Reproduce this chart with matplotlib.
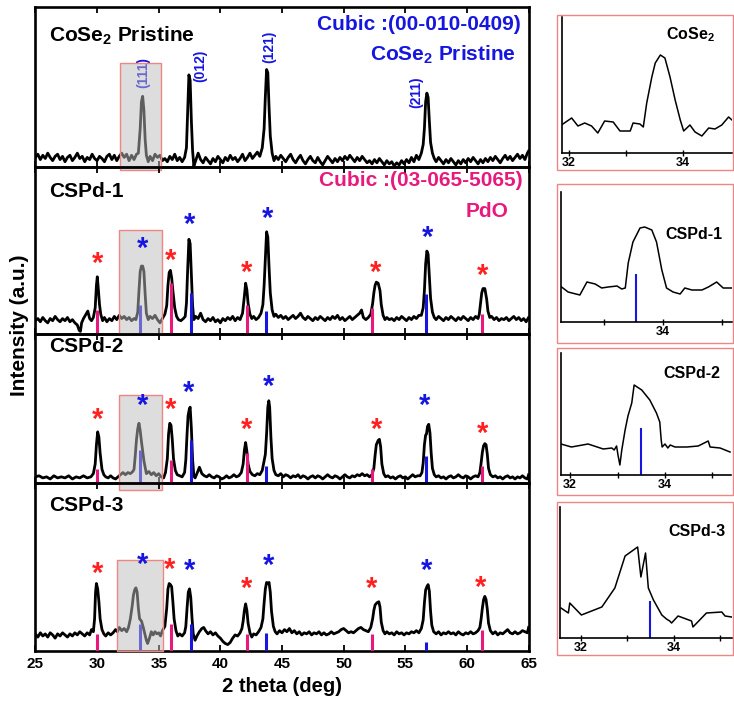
import matplotlib
matplotlib.use("Agg")
import matplotlib.pyplot as plt
from matplotlib.patches import Rectangle

plt.rcParams['font.family'] = ['Liberation Sans', 'DejaVu Sans']
plt.rcParams['font.weight'] = 'bold'
plt.rcParams['mathtext.fontset'] = 'custom'
plt.rcParams['mathtext.rm'] = 'Liberation Sans:bold'
plt.rcParams['mathtext.bf'] = 'Liberation Sans:bold'
plt.rcParams['mathtext.default'] = 'bf'

# ---------------- data (2theta in deg, intensity in arbitrary units) ----------------
p1 = [(25.0,18),(25.2,21),(25.4,16),(25.6,20),(25.8,17),(26.0,22),(26.2,18),(26.4,15),(26.6,19),(26.8,21),
      (27.0,16),(27.2,19),(27.4,14),(27.6,18),(27.8,20),(28.0,15),(28.2,18),(28.4,22),(28.6,17),(28.8,19),
      (29.0,14),(29.2,18),(29.4,16),(29.6,21),(29.8,17),(30.0,15),(30.2,19),(30.4,17),(30.6,14),(30.8,19),
      (31.0,21),(31.2,16),(31.4,20),(31.6,15),(31.8,19),(32.0,22),(32.2,18),(32.4,21),(32.6,15),(32.8,20),
      (33.0,16),(33.2,21),(33.35,22),(33.5,45),(33.6,70),(33.7,75),(33.8,62),(33.9,35),(34.0,20),(34.15,14),
      (34.3,19),(34.5,15),(34.7,21),(34.9,18),(35.1,20),(35.3,15),(35.5,17),(35.7,14),(35.9,19),(36.1,16),
      (36.3,21),(36.5,15),(36.7,18),(36.9,14),(37.1,18),(37.25,27),(37.35,60),(37.45,95),(37.55,90),(37.65,52),
      (37.75,24),(37.85,10),(38.0,15),(38.2,22),(38.4,16),(38.6,13),(38.8,18),(39.0,15),(39.2,12),(39.4,17),
      (39.6,14),(39.8,19),(40.0,16),(40.2,13),(40.4,18),(40.6,15),(40.8,20),(41.0,16),(41.2,18),(41.4,14),
      (41.6,17),(41.8,21),(42.0,15),(42.2,18),(42.4,22),(42.6,17),(42.8,20),(43.0,23),(43.2,19),(43.4,27),
      (43.55,45),(43.65,75),(43.75,100),(43.85,97),(43.95,65),(44.05,38),(44.2,22),(44.35,15),(44.5,19),(44.7,16),
      (44.9,20),(45.1,17),(45.3,14),(45.5,18),(45.7,21),(45.9,16),(46.1,13),(46.3,17),(46.5,20),(46.7,15),
      (46.9,12),(47.1,16),(47.3,19),(47.5,15),(47.7,13),(47.9,18),(48.1,14),(48.3,11),(48.5,15),(48.7,19),
      (48.9,16),(49.1,13),(49.3,17),(49.5,14),(49.7,18),(49.9,15),(50.1,19),(50.3,16),(50.5,20),(50.7,17),
      (50.9,14),(51.1,18),(51.3,15),(51.5,19),(51.7,16),(51.9,13),(52.1,15),(52.3,12),(52.5,16),(52.7,13),
      (52.9,17),(53.1,14),(53.3,11),(53.5,15),(53.7,12),(53.9,14),(54.1,10),(54.3,13),(54.5,11),(54.7,15),
      (54.9,12),(55.1,16),(55.3,13),(55.5,18),(55.7,14),(55.9,20),(56.1,16),(56.3,22),(56.45,30),(56.55,45),
      (56.65,70),(56.75,78),(56.85,74),(56.95,52),(57.05,32),(57.2,22),(57.35,17),(57.5,14),(57.7,18),(57.9,15),
      (58.1,12),(58.3,16),(58.5,13),(58.7,17),(58.9,14),(59.1,11),(59.3,15),(59.5,12),(59.7,16),(59.9,13),
      (60.1,17),(60.3,14),(60.5,18),(60.7,15),(60.9,12),(61.1,16),(61.3,13),(61.5,17),(61.7,14),(61.9,18),
      (62.1,15),(62.3,19),(62.5,16),(62.7,13),(62.9,17),(63.1,20),(63.3,16),(63.5,19),(63.7,15),(63.9,18),
      (64.1,21),(64.3,17),(64.5,20),(64.7,16),(64.9,22),(65.0,24)]

p2 = [(25.0,12),(25.2,14),(25.4,11),(25.6,15),(25.8,12),(26.0,10),(26.2,14),(26.4,12),(26.6,16),(26.8,13),
      (27.0,11),(27.2,14),(27.4,12),(27.6,15),(27.8,11),(28.0,13),(28.2,10),(28.4,8),(28.55,3),(28.65,2),
      (28.75,10),(28.9,14),(29.1,18),(29.25,21),(29.4,14),(29.55,12),(29.7,15),(29.85,24),(29.95,45),(30.02,53),
      (30.1,42),(30.2,27),(30.3,18),(30.45,12),(30.6,15),(30.8,11),(31.0,14),(31.2,12),(31.4,16),(31.6,13),
      (31.8,17),(32.0,14),(32.2,16),(32.4,13),(32.6,15),(32.8,12),(33.0,14),(33.15,13),(33.3,20),(33.4,40),
      (33.5,58),(33.6,63),(33.7,63),(33.8,58),(33.9,37),(34.0,19),(34.15,13),(34.3,16),(34.5,14),(34.7,17),
      (34.9,13),(35.1,10),(35.3,14),(35.5,18),(35.65,26),(35.75,45),(35.85,57),(35.95,59),(36.05,52),(36.15,40),
      (36.3,24),(36.45,16),(36.6,13),(36.8,12),(37.0,14),(37.15,16),(37.25,28),(37.35,60),(37.45,88),(37.55,84),
      (37.65,54),(37.75,26),(37.85,13),(38.0,16),(38.2,14),(38.4,19),(38.6,13),(38.8,11),(39.0,14),(39.2,12),
      (39.4,15),(39.6,11),(39.8,13),(40.0,10),(40.2,14),(40.4,12),(40.6,15),(40.8,13),(41.0,16),(41.2,12),
      (41.4,15),(41.6,13),(41.8,19),(41.95,35),(42.05,47),(42.15,41),(42.25,28),(42.4,18),(42.55,14),(42.7,16),
      (42.9,13),(43.1,15),(43.3,19),(43.45,27),(43.55,45),(43.65,70),(43.75,95),(43.85,90),(43.95,62),(44.05,38),
      (44.2,22),(44.35,16),(44.5,18),(44.7,15),(44.9,17),(45.1,14),(45.3,16),(45.5,13),(45.7,15),(45.9,17),
      (46.1,14),(46.3,16),(46.5,19),(46.7,15),(46.9,13),(47.1,16),(47.3,14),(47.5,12),(47.7,15),(47.9,13),
      (48.1,16),(48.3,14),(48.5,12),(48.7,15),(48.9,13),(49.1,16),(49.3,14),(49.5,17),(49.7,13),(49.9,15),
      (50.1,12),(50.3,14),(50.5,16),(50.7,13),(50.9,15),(51.1,17),(51.3,19),(51.45,22),(51.6,15),(51.8,13),
      (52.0,15),(52.2,18),(52.35,28),(52.45,38),(52.55,45),(52.65,48),(52.8,47),(52.95,40),(53.05,27),(53.2,17),
      (53.35,13),(53.5,15),(53.7,13),(53.9,14),(54.1,12),(54.3,15),(54.5,13),(54.7,16),(54.9,14),(55.1,12),
      (55.3,15),(55.5,13),(55.7,16),(55.9,14),(56.1,17),(56.3,17),(56.45,24),(56.55,40),(56.65,65),(56.75,77),
      (56.85,74),(56.95,54),(57.05,33),(57.2,20),(57.35,15),(57.5,13),(57.7,16),(57.9,14),(58.1,12),(58.3,15),
      (58.5,13),(58.7,16),(58.9,14),(59.1,12),(59.3,15),(59.5,13),(59.7,16),(59.9,14),(60.1,12),(60.3,15),
      (60.5,13),(60.7,16),(60.9,14),(61.0,18),(61.1,28),(61.2,38),(61.3,42),(61.45,42),(61.6,32),(61.7,21),
      (61.85,15),(62.0,16),(62.2,13),(62.4,15),(62.6,12),(62.8,14),(63.0,13),(63.2,15),(63.4,12),(63.6,14),
      (63.8,16),(64.0,13),(64.2,15),(64.4,12),(64.6,14),(64.8,11),(65.0,15)]

p3 = [(25.0,15),(25.3,16),(25.6,14),(25.9,15),(26.2,13),(26.5,16),(26.8,14),(27.1,15),(27.4,14),(27.7,16),
      (28.0,13),(28.3,15),(28.6,14),(28.9,16),(29.2,14),(29.5,15),(29.7,18),(29.85,27),(29.95,45),(30.05,57),
      (30.15,52),(30.25,37),(30.4,22),(30.55,17),(30.7,15),(30.9,14),(31.1,16),(31.3,14),(31.5,13),(31.7,15),
      (31.9,17),(32.1,19),(32.3,17),(32.5,19),(32.7,18),(32.9,20),(33.0,22),(33.1,35),(33.2,50),(33.3,60),
      (33.4,65),(33.5,58),(33.6,48),(33.7,39),(33.8,30),(33.9,24),(34.0,18),(34.2,20),(34.4,17),(34.6,19),
      (34.8,16),(35.0,18),(35.2,15),(35.4,14),(35.55,19),(35.7,32),(35.8,55),(35.9,65),(36.0,63),(36.1,50),
      (36.2,32),(36.35,21),(36.5,17),(36.7,16),(36.9,15),(37.1,19),(37.2,31),(37.3,55),(37.38,72),(37.48,78),
      (37.55,80),(37.65,60),(37.75,31),(37.85,16),(37.95,14),(38.1,18),(38.3,24),(38.5,18),(38.7,16),(38.9,15),
      (39.1,17),(39.3,15),(39.5,14),(39.7,16),(39.9,15),(40.1,13),(40.3,14),(40.5,16),(40.7,14),(40.9,15),
      (41.1,17),(41.3,15),(41.5,16),(41.7,19),(41.85,27),(41.95,40),(42.05,47),(42.15,39),(42.25,27),(42.4,20),
      (42.6,17),(42.8,16),(43.0,18),(43.2,17),(43.4,21),(43.55,30),(43.65,36),(43.75,55),(43.85,80),(43.93,86),
      (44.0,80),(44.1,52),(44.2,32),(44.35,21),(44.5,17),(44.7,16),(44.9,18),(45.1,15),(45.3,17),(45.5,16),
      (45.7,14),(45.9,16),(46.1,15),(46.3,17),(46.5,14),(46.7,16),(46.9,15),(47.1,13),(47.3,15),(47.5,16),
      (47.7,14),(47.9,16),(48.1,15),(48.3,13),(48.5,15),(48.7,17),(48.9,15),(49.1,14),(49.3,16),(49.5,15),
      (49.7,13),(49.9,15),(50.1,17),(50.3,15),(50.5,14),(50.7,16),(50.9,15),(51.1,17),(51.3,16),(51.5,18),
      (51.7,16),(51.9,17),(52.1,15),(52.3,17),(52.45,23),(52.55,35),(52.65,45),(52.8,49),(52.9,50),(53.0,43),
      (53.1,27),(53.25,18),(53.4,15),(53.6,16),(53.8,14),(54.0,15),(54.2,13),(54.4,15),(54.6,16),(54.8,14),
      (55.0,15),(55.2,13),(55.4,15),(55.6,17),(55.8,15),(56.0,16),(56.2,16),(56.35,19),(56.45,28),(56.55,45),
      (56.65,54),(56.72,55),(56.8,62),(56.9,64),(57.0,56),(57.1,37),(57.2,23),(57.35,17),(57.5,15),(57.7,16),
      (57.9,14),(58.1,15),(58.3,13),(58.5,15),(58.7,16),(58.9,14),(59.1,15),(59.3,17),(59.5,15),(59.7,14),
      (59.9,16),(60.1,15),(60.3,13),(60.5,15),(60.7,16),(60.9,15),(61.05,19),(61.15,28),(61.25,38),(61.35,44),
      (61.45,46),(61.55,45),(61.65,36),(61.75,23),(61.9,17),(62.1,15),(62.3,16),(62.5,14),(62.7,15),(62.9,13),
      (63.1,15),(63.3,16),(63.5,14),(63.7,15),(63.9,13),(64.1,15),(64.3,14),(64.5,16),(64.7,14),(64.9,13),
      (65.0,17)]

p4 = [(25.0,16),(25.2,13),(25.4,17),(25.6,14),(25.8,16),(26.0,13),(26.2,17),(26.4,15),(26.6,12),(26.8,16),
      (27.0,14),(27.2,17),(27.4,15),(27.6,13),(27.8,16),(28.0,14),(28.2,17),(28.4,15),(28.6,18),(28.8,16),
      (29.0,14),(29.2,17),(29.4,15),(29.55,20),(29.7,18),(29.8,30),(29.88,55),(29.95,63),(30.05,58),(30.15,46),
      (30.25,30),(30.4,20),(30.55,16),(30.7,14),(30.9,17),(31.1,15),(31.3,17),(31.5,20),(31.65,18),(31.8,22),
      (32.0,19),(32.2,21),(32.4,18),(32.55,22),(32.7,30),(32.85,42),(32.95,52),(33.05,57),(33.15,59),(33.25,55),
      (33.35,40),(33.45,30),(33.6,28),(33.75,22),(33.9,15),(34.0,10),(34.1,7),(34.25,12),(34.4,18),(34.55,15),
      (34.7,18),(34.85,16),(35.0,17),(35.15,14),(35.3,19),(35.5,23),(35.65,40),(35.75,58),(35.85,63),(35.95,62),
      (36.05,60),(36.15,46),(36.25,30),(36.4,19),(36.55,14),(36.7,16),(36.9,14),(37.1,17),(37.2,23),(37.3,40),
      (37.4,55),(37.5,58),(37.6,50),(37.7,31),(37.8,16),(37.95,10),(38.1,14),(38.3,18),(38.5,21),(38.65,22),
      (38.8,19),(39.0,16),(39.2,18),(39.4,15),(39.6,17),(39.8,14),(40.0,12),(40.2,9),(40.4,7),(40.6,6),
      (40.8,8),(41.0,12),(41.2,15),(41.4,14),(41.6,17),(41.75,21),(41.85,28),(41.95,38),(42.05,44),(42.15,38),
      (42.25,26),(42.4,17),(42.55,13),(42.7,16),(42.9,15),(43.1,18),(43.3,22),(43.45,30),(43.55,45),(43.65,58),
      (43.75,64),(43.85,63),(43.95,64),(44.05,55),(44.15,37),(44.3,23),(44.45,18),(44.6,16),(44.8,19),(45.0,17),
      (45.2,20),(45.4,18),(45.6,21),(45.8,17),(46.0,19),(46.2,16),(46.4,18),(46.6,15),(46.8,17),(47.0,16),
      (47.2,18),(47.4,15),(47.6,17),(47.8,16),(48.0,18),(48.2,15),(48.4,17),(48.6,15),(48.8,16),(49.0,18),
      (49.2,16),(49.4,17),(49.6,18),(49.8,20),(50.0,21),(50.2,19),(50.4,17),(50.6,18),(50.8,17),(51.0,19),
      (51.2,21),(51.4,22),(51.6,20),(51.8,19),(52.0,18),(52.2,22),(52.35,30),(52.45,38),(52.55,43),(52.7,45),
      (52.85,46),(52.95,41),(53.05,27),(53.2,19),(53.35,16),(53.5,18),(53.7,16),(53.9,17),(54.1,15),(54.3,18),
      (54.5,16),(54.7,17),(54.9,15),(55.1,17),(55.3,16),(55.5,18),(55.7,17),(55.9,19),(56.1,17),(56.3,21),
      (56.45,29),(56.55,45),(56.65,57),(56.75,60),(56.85,62),(56.95,56),(57.05,37),(57.15,24),(57.3,18),(57.5,16),
      (57.7,18),(57.9,15),(58.1,17),(58.3,16),(58.5,18),(58.7,16),(58.9,17),(59.1,15),(59.3,18),(59.5,16),
      (59.7,15),(59.9,17),(60.1,16),(60.3,18),(60.5,16),(60.7,17),(60.9,19),(61.05,22),(61.15,30),(61.25,40),
      (61.35,48),(61.45,51),(61.55,48),(61.65,39),(61.75,26),(61.9,19),(62.1,16),(62.3,18),(62.5,15),(62.7,17),
      (62.9,16),(63.1,18),(63.3,20),(63.5,17),(63.7,16),(63.9,18),(64.1,16),(64.3,17),(64.5,19),(64.7,18),
      (64.9,17),(65.0,22)]

spectra = [p1, p2, p3, p4]
panel_ylim = [(9.1, 158.3), (0, 155.5), (9.7, 148.7), (0, 157.3)]
panel_px = [160, 166.6, 149, 168.5]

# reference stick patterns
pdo_pos = [30.0, 36.0, 42.2, 52.3, 61.2]
cose2_pos = [33.45, 37.6, 43.7, 56.7]
pdo_h = [None, [22, 47, 27, 24, 18], [22, 31, 37, 22, 25], [16, 25, 16, 16, 20]]
cose2_h = [None, [27, 38, 21, 37], [40, 49, 25, 34], [25, 25, 17, 8]]

# asterisk marks (x, y)
red_stars = [None,
             [(30.0, 65), (36.0, 68), (42.1, 57), (52.6, 57), (61.3, 54)],
             [(30.0, 68), (36.0, 77), (42.1, 59), (52.7, 59), (61.3, 55)],
             [(30.0, 72), (35.9, 76), (42.1, 58), (52.3, 58), (61.1, 59)]]
blue_stars = [None,
              [(33.7, 79), (37.5, 101), (43.8, 107), (56.8, 89)],
              [(33.7, 81), (37.4, 93), (43.9, 99), (56.6, 81)],
              [(33.7, 80), (37.5, 75), (43.9, 79), (56.7, 75)]]

# highlighted region (x0, x1, y_top, y_bottom)
boxes = [(31.9, 35.2, 106, 6), (31.8, 35.25, 97, 0), (31.8, 35.3, 91, 2.3), (31.6, 35.35, 85, 0)]

panel_names = ['CoSe$_2$ Pristine', 'CSPd-1', 'CSPd-2', 'CSPd-3']
name_y = [0.82, 0.851, 0.916, 0.862]

hkl_labels = ['(111)', '(012)', '(121)', '(211)']
hkl_pos = [(33.72, 97), (38.36, 103), (43.93, 121), (55.9, 79)]

xticks_main = [25, 30, 35, 40, 45, 50, 55, 60, 65]

# insets
inset1 = [(31.87,28),(32.05,35),(32.16,27),(32.28,30),(32.40,27),(32.51,20),(32.63,32),(32.78,31),(32.90,22),
          (33.08,22),(33.13,30),(33.25,29),(33.31,26),(33.37,50),(33.46,76),(33.52,90),(33.61,98),(33.69,95),
          (33.78,76),(33.87,53),(33.96,33),(34.02,22),(34.13,28),(34.22,21),(34.34,17),(34.46,25),(34.57,24),
          (34.69,28),(34.81,36),(34.87,33)]
inset2 = [(32.28,35),(32.39,30),(32.59,27),(32.71,40),(32.85,38),(32.96,34),(33.07,35),(33.22,36),(33.30,33),
          (33.36,34),(33.41,59),(33.49,80),(33.61,94),(33.69,95),(33.81,92),(33.89,80),(33.98,52),(34.06,34),
          (34.17,30),(34.29,28),(34.37,34),(34.49,32),(34.66,32),(34.77,35),(34.91,40),(35.02,34),(35.16,34)]
inset3 = [(31.81,31),(32.03,28),(32.38,31),(32.70,26),(32.88,27),(32.93,25),(32.98,29),(33.01,20),(33.05,10),
          (33.09,25),(33.16,45),(33.22,59),(33.30,72),(33.35,90),(33.51,85),(33.68,75),(33.82,62),(33.89,53),
          (33.92,35),(33.94,28),(34.00,31),(34.06,27),(34.11,30),(34.21,28),(34.46,28),(34.70,29),(34.91,34),
          (34.95,28),(35.16,27),(35.37,23)]
inset4 = [(31.57,30),(31.73,25),(31.76,35),(32.01,23),(32.45,31),(32.73,50),(32.95,82),(33.22,91),(33.29,61),
          (33.39,85),(33.45,50),(33.56,38),(33.74,23),(33.84,19),(33.91,17),(33.95,15),(34.09,22),(34.38,17),
          (34.41,11),(34.70,25),(35.03,26),(35.10,22),(35.24,21)]
insets = [inset1, inset2, inset3, inset4]
inset_stick = [None, (33.54, 48), (33.49, 47), (33.48, 37)]
inset_names = ['CoSe$_2$', 'CSPd-1', 'CSPd-2', 'CSPd-3']
inset_name_px = [(690, 35), (694, 234), (692, 373), (697, 531)]
inset_xlim = [(31.88, 34.87), (32.27, 35.17), (31.81, 35.39), (31.55, 35.25)]
inset_ax_px = [(562, 17, 732, 153), (561, 192, 732, 322), (561, 353, 731, 475), (560, 507, 732, 638)]
inset_box_px = [(557, 15, 733, 170), (557, 184, 733, 343), (557, 348, 733, 495), (557, 502, 733, 655)]

# ---------------- styling ----------------
PINK = '#e8197d'
BLUE = '#1616e0'
RED = '#ff2020'
BOXEDGE = '#f08585'

W, H = 734, 701
fig = plt.figure(figsize=(W / 100, H / 100), dpi=100)

def frect(l, t, r, b):
    return [l / W, 1 - b / H, (r - l) / W, (b - t) / H]

gs = fig.add_gridspec(4, 1, left=35.4 / W, right=528.6 / W, top=1 - 7 / H, bottom=1 - 651 / H,
                      hspace=0, height_ratios=panel_px)

for i in range(4):
    ax = fig.add_subplot(gs[i])
    ax.set_facecolor('none')
    x, y = zip(*spectra[i])
    ax.plot(x, y, color='black', lw=2.0, zorder=2)
    if pdo_h[i] is not None:
        ax.vlines(pdo_pos, 0, pdo_h[i], color=PINK, lw=2.2, zorder=3)
        ax.vlines(cose2_pos, 0, cose2_h[i], color=BLUE, lw=2.2, zorder=3)
    x0, x1, yt, yb = boxes[i]
    ax.add_patch(Rectangle((x0, yb), x1 - x0, yt - yb, facecolor=(0.74, 0.74, 0.74), alpha=0.5,
                           edgecolor='none', zorder=4, clip_on=False))
    ax.add_patch(Rectangle((x0, yb), x1 - x0, yt - yb, facecolor='none', edgecolor=BOXEDGE,
                           lw=1.0, zorder=4, clip_on=False))
    if red_stars[i] is not None:
        for sx, sy in red_stars[i]:
            ax.text(sx, sy, '*', color=RED, fontsize=21, ha='center', va='center', zorder=5)
        for sx, sy in blue_stars[i]:
            ax.text(sx, sy, '*', color=BLUE, fontsize=21, ha='center', va='center', zorder=5)
    ax.text(0.028, name_y[i], panel_names[i], transform=ax.transAxes, fontsize=15,
            ha='left', va='center', color='black')
    ax.set_xticks(xticks_main)
    ax.set_yticks([])
    ax.set_xlim(25, 65)
    ax.set_ylim(*panel_ylim[i])
    ax.tick_params(axis='x', direction='in', top=True, bottom=True, length=4, width=1.3,
                   labelsize=11, pad=4)
    for s in ax.spines.values():
        s.set_linewidth(1.9)
    if i < 3:
        ax.tick_params(labelbottom=False)
    else:
        for lab in ax.get_xticklabels():
            lab.set_fontweight('bold')
        ax.set_xlabel('2 theta (deg)', fontsize=14.5, fontweight='bold', labelpad=5)
    if i == 0:
        ax.text(0.985, 0.8875, 'Cubic :(00-010-0409)', transform=ax.transAxes, fontsize=15,
                ha='right', va='center', color=BLUE)
        ax.text(0.975, 0.70, 'CoSe$_2$ Pristine', transform=ax.transAxes, fontsize=15,
                ha='right', va='center', color=BLUE)
        for lab, (hx, hy) in zip(hkl_labels, hkl_pos):
            ax.text(hx, hy, lab, rotation=90, fontsize=10, color=BLUE, ha='center', va='center')
    if i == 1:
        ax.text(0.987, 0.916, 'Cubic :(03-065-5065)', transform=ax.transAxes, fontsize=15,
                ha='right', va='center', color=PINK)
        ax.text(0.96, 0.733, 'PdO', transform=ax.transAxes, fontsize=15,
                ha='right', va='center', color=PINK)

fig.text(20 / W, 1 - 325 / H, 'Intensity (a.u.)', rotation=90, fontsize=15,
         ha='center', va='center')

# insets
for i in range(4):
    l, t, r, b = inset_box_px[i]
    fig.patches.append(Rectangle((l / W, 1 - b / H), (r - l) / W, (b - t) / H,
                                 transform=fig.transFigure, facecolor='none',
                                 edgecolor=BOXEDGE, lw=1.0))
    al, at, ar, ab = inset_ax_px[i]
    iax = fig.add_axes(frect(al, at, ar, ab))
    iax.set_facecolor('none')
    x, y = zip(*insets[i])
    iax.plot(x, y, color='black', lw=1.1)
    if inset_stick[i] is not None:
        iax.vlines([inset_stick[i][0]], 0, [inset_stick[i][1]], color=BLUE, lw=1.5)
    iax.set_yticks([])
    iax.set_xticks([32, 34])
    iax.set_xticks([33, 35], minor=True)
    iax.set_xlim(*inset_xlim[i])
    iax.set_ylim(0, ab - at)
    iax.tick_params(axis='x', which='both', direction='inout', length=4, width=1.0,
                    labelsize=9, pad=1)
    for lab in iax.get_xticklabels():
        lab.set_fontweight('bold')
    for sname in ['top', 'right']:
        iax.spines[sname].set_visible(False)
    for sname in ['left', 'bottom']:
        iax.spines[sname].set_linewidth(1.2)
    nx, ny = inset_name_px[i]
    fig.text(nx / W, 1 - ny / H, inset_names[i], fontsize=11.5, ha='center', va='center')

fig.savefig('out.png', dpi=100)
